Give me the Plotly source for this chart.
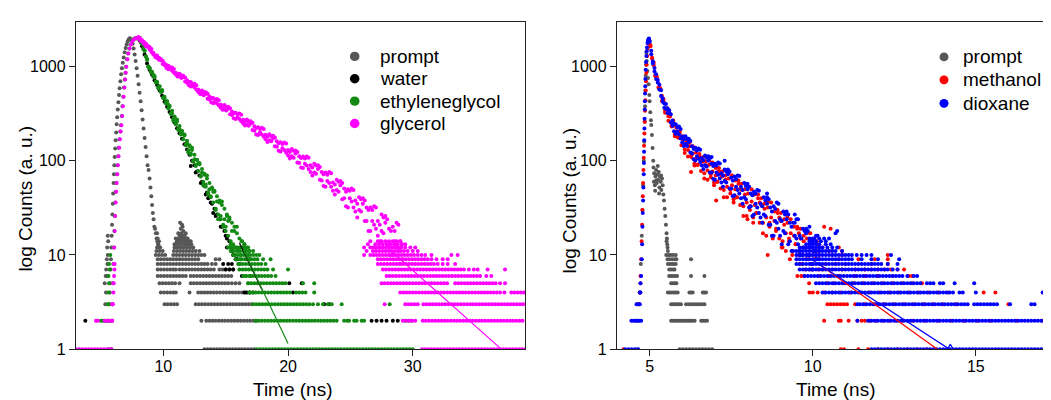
import plotly.graph_objects as go

# ======================= LEFT PANEL =======================
# prompt (IRF) : curve points (t in ns, counts)
promptL_t = [5.60, 5.64, 5.68, 5.71, 5.74, 5.77, 5.80, 5.83, 5.86, 5.89, 5.92, 5.95, 5.98, 6.01, 6.04, 6.07,
             6.10, 6.14, 6.18, 6.22, 6.26, 6.30, 6.35, 6.40, 6.45, 6.50, 6.56, 6.62, 6.68, 6.75, 6.82, 6.90,
             6.98, 7.06, 7.14, 7.22, 7.30, 7.38, 7.46, 7.54, 7.62, 7.70, 7.78, 7.86, 7.94, 8.02, 8.10, 8.18,
             8.26, 8.34, 8.42, 8.50, 8.58, 8.66, 8.74, 8.82, 8.90, 8.97, 9.04, 9.10, 9.16, 9.22, 9.28, 9.34,
             9.40, 9.46, 9.52, 9.58, 9.64, 9.60, 9.70, 9.65, 9.55, 9.50,
             10.9, 11.1, 11.3, 11.5, 11.7, 11.9, 12.1, 11.2, 11.4, 11.5, 11.6, 11.35, 11.55, 11.7, 11.0, 11.9,
             12.2, 11.45, 11.25, 11.8]
promptL_c = [1, 2, 3, 4, 5, 7, 9, 12, 16, 21, 27, 35, 45, 58, 72, 90,
             110, 135, 165, 200, 245, 290, 350, 420, 500, 590, 700, 830, 960, 1100, 1250, 1420,
             1580, 1720, 1850, 1950, 2000, 1980, 1900, 1750, 1560, 1350, 1150, 960, 800, 650, 530, 430,
             345, 275, 220, 175, 140, 112, 90, 80, 65, 52, 42, 34, 28, 24, 20, 19,
             17, 15, 14, 13, 12, 13, 12, 14, 15, 17,
             13, 14, 15, 16, 14, 13, 13, 17, 19, 21, 18, 22, 20, 16, 15, 15,
             14, 17, 13, 17]
promptL_rows = {
    1: [13.3, 13.55, 13.8, 14.05, 14.3, 14.55, 14.8, 15.05, 15.3, 15.55, 15.8, 16.05, 16.3, 16.55, 16.8, 17.05, 17.3],
    2: [13.05, 13.45, 13.7, 13.95, 14.2, 14.45, 14.7, 14.95, 15.2, 15.45, 15.7, 15.95, 16.2, 16.45, 16.7, 16.95, 17.2, 17.45],
    3: [5.35, 10.1, 10.35, 10.6, 10.85, 11.1, 12.6, 12.85, 13.1, 13.35, 13.6, 13.85, 14.1, 14.35, 14.6, 14.85, 15.1,
        15.35, 15.6, 15.85, 16.1, 16.35, 16.6, 16.85, 17.1],
    4: [5.4, 9.8, 10.05, 10.3, 10.55, 10.8, 11.0, 12.1, 12.8, 13.05, 13.3, 13.55, 13.8, 14.05, 14.3, 14.55, 14.8, 15.05,
        15.3, 15.55, 15.8, 16.05, 16.3, 16.55, 16.9],
    5: [5.3, 9.7, 9.95, 10.2, 10.45, 10.7, 10.95, 11.3, 12.2, 12.45, 12.7, 12.95, 13.2, 13.45, 13.7, 13.95, 14.2, 14.45,
        14.7, 14.95, 15.2, 15.5, 15.8, 16.1],
    6: [5.38, 5.5, 9.55, 9.8, 10.05, 10.3, 10.55, 10.8, 11.05, 11.3, 11.55, 11.8, 12.2, 12.45, 12.7, 12.95, 13.2, 13.45,
        13.7, 13.95, 14.2, 14.45, 14.7, 14.95, 15.2, 15.45],
    7: [5.42, 9.55, 9.8, 10.05, 10.3, 10.55, 10.8, 11.0, 11.3, 11.55, 11.8, 12.05, 12.3, 12.55, 12.8, 13.05, 13.3, 13.55,
        13.8, 14.05, 14.5, 14.75, 15.0, 15.3, 15.6],
    8: [5.52, 9.55, 9.8, 10.05, 10.3, 10.55, 10.8, 11.05, 11.3, 11.55, 11.8, 12.05, 12.3, 12.55, 12.8, 13.05, 13.3, 13.55,
        13.9, 14.2],
    9: [5.47, 9.55, 9.8, 10.05, 10.3, 10.55, 10.8, 11.05, 11.3, 11.55, 11.8, 12.05, 12.3, 12.55, 12.8, 14.2, 14.5],
    10: [5.55, 9.4, 9.65, 9.9, 10.15, 10.8, 11.05, 11.3, 11.55, 11.8, 12.05, 12.3, 12.55, 12.8, 13.05, 13.3],
    11: [9.45, 9.7, 9.95, 10.85, 11.1, 11.35, 11.6, 11.85, 12.1, 12.35, 12.6, 12.9],
    12: [5.5, 9.5, 9.75, 10.9, 11.15, 11.4, 11.65, 11.9, 12.15, 12.4],
    13: [11.0, 11.25, 11.5, 11.75, 12.0, 12.25],
    14: [5.58, 11.1, 11.35, 11.6, 11.85, 12.1],
    15: [11.2, 11.45, 11.7, 11.95],
    16: [5.55, 11.3, 11.5, 11.7],
}

# water
waterL_t = [7.9, 8.1, 8.3, 8.5, 8.7, 8.9, 9.1, 9.3, 9.5, 9.7, 9.9, 10.1, 10.3, 10.5, 10.7, 10.9, 11.1, 11.3, 11.5,
            11.7, 11.9, 12.1, 12.3, 12.5, 12.7, 12.9, 13.1, 13.3, 13.5, 13.7, 13.9, 14.1, 14.3, 14.5, 14.7, 14.9,
            15.1, 15.3, 15.5, 15.7, 15.9, 16.1,
            12.2, 12.6, 13.0, 13.4, 13.8, 14.2, 14.6, 15.0, 15.4, 15.8, 14.0, 13.6]
waterL_c = [2000, 1900, 1650, 1350, 1080, 930, 820, 720, 640, 560, 490, 425, 375, 330, 290, 255, 222, 196, 172,
            150, 132, 116, 100, 90, 77, 70, 60, 54, 46, 41, 35, 31, 27, 24, 20, 18,
            15, 14, 11, 10, 9, 8,
            88, 75, 58, 44, 36, 26, 20, 16, 12, 9, 28, 40]
waterL_rows = {
    2: [3.75, 26.7, 27.1, 27.5, 27.9, 28.4, 28.8],
    3: [22.9, 23.3],
    4: [16.5, 16.7, 16.95, 17.2, 20.4],
    5: [20.1, 21.1],
    6: [16.3],
    7: [15.0, 15.3, 15.6],
    8: [14.8, 15.2, 15.5],
    9: [15.9],
    10: [15.6],
    12: [15.1],
}

# ethyleneglycol : rising edge and noisy decay band (two passes per time channel)
eglyL_rise_t = [5.82, 5.87, 5.91, 5.95, 5.99, 6.03, 6.07, 6.11, 6.15, 6.19, 6.23, 6.28, 6.33, 6.38, 6.43, 6.49,
                6.55, 6.61, 6.67, 6.73, 6.79, 6.85, 6.91, 6.96, 7.01, 7.09, 7.17, 7.27, 7.37, 7.49, 7.61, 7.73, 7.85]
eglyL_rise_c = [1, 2, 3, 5, 8, 12, 18, 26, 36, 47, 58, 72, 90, 112, 138, 170,
                205, 239, 300, 380, 480, 600, 730, 860, 1000, 1200, 1380, 1560, 1720, 1860, 1950, 2000, 2010]
eglyL_t = [8.0, 8.1, 8.2, 8.3, 8.4, 8.5, 8.6, 8.7, 8.8, 8.9, 9.0, 9.1, 9.2, 9.3, 9.4, 9.5, 9.6, 9.7, 9.8, 9.9,
           10.0, 10.1, 10.2, 10.3, 10.4, 10.5, 10.6, 10.7, 10.8, 10.9, 11.0, 11.1, 11.2, 11.3, 11.4, 11.5, 11.6,
           11.7, 11.8, 11.9, 12.0, 12.1, 12.2, 12.3, 12.4, 12.5, 12.6, 12.7, 12.8, 12.9, 13.0, 13.1, 13.2, 13.3,
           13.4, 13.5, 13.6, 13.7, 13.8, 13.9, 14.0, 14.1, 14.2, 14.3, 14.4, 14.5, 14.6, 14.7, 14.8, 14.9, 15.0,
           15.1, 15.2, 15.3, 15.4, 15.5, 15.6, 15.7, 15.8, 15.9, 16.0, 16.1, 16.2, 16.3, 16.4, 16.5, 16.6, 16.7,
           16.8, 16.9, 17.0]
eglyL_c = [1990, 1960, 1830, 1760, 1580, 1470, 1280, 1180, 1010, 975,
           880, 870, 780, 770, 690, 690, 610, 620, 540, 545,
           470, 480, 410, 430, 360, 375, 318, 340, 280, 296,
           245, 262, 220, 235, 190, 208, 170, 186, 148, 163,
           130, 146, 116, 130, 100, 116, 88, 103, 78, 92,
           69, 82, 60, 73, 53, 65, 46, 58, 41, 52,
           36, 47, 31, 42, 27, 38, 24, 34, 21, 31,
           18, 27, 16, 24, 14, 22, 13, 20, 12, 17,
           11, 15, 10, 14, 12, 13, 11, 12, 10, 11, 9]
eglyL_c2 = [2032, 2014, 1803, 1745, 1535, 1484, 1280, 1211, 990, 960,
            878, 882, 820, 795, 681, 679, 589, 617, 547, 566,
            462, 460, 415, 427, 394, 384, 315, 321, 267, 293,
            253, 275, 213, 218, 195, 208, 192, 190, 146, 155,
            123, 144, 120, 138, 98, 104, 91, 102, 94, 95,
            68, 75, 55, 71, 56, 70, 44, 50, 42, 51,
            47, 48, 30, 37, 24, 36, 26, 37, 20, 24,
            20, 26, 23, 25, 13, 18, 10, 18, 12, 20,
            8, 12, 9, 14, 12, 13, 6, 9, 5, 9, 6]
eglyL_rows = {
    1: [17.5, 17.75, 18.0, 18.25, 18.5, 18.75, 19.0, 19.25, 19.5, 19.75, 20.0, 20.25, 20.5, 20.75, 21.0, 21.25,
        21.5, 21.75, 22.0, 22.25, 22.5, 22.75, 23.0, 23.25, 23.5, 23.75, 24.0, 24.25, 24.5, 24.75, 25.0, 25.25,
        25.5, 25.75, 26.0, 26.25, 26.5, 26.75, 27.0, 27.25, 27.5, 27.75, 28.0, 28.25, 28.5, 28.75, 29.0, 29.25,
        29.5, 29.75, 30.0],
    2: [5.0, 5.15, 5.3, 5.45, 5.6, 17.4, 17.65, 17.9, 18.15, 18.4, 18.65, 18.9, 19.15, 19.4, 19.65, 19.9, 20.15,
        20.4, 20.65, 20.9, 21.15, 21.4, 21.65, 21.9, 22.15, 22.4, 22.65, 22.9, 23.15, 23.4, 23.65, 23.9, 24.5,
        24.75, 24.9, 25.3, 25.5, 25.9, 26.1, 29.4, 29.65, 29.9],
    3: [5.55, 5.62, 17.2, 17.45, 17.7, 17.95, 18.2, 18.45, 18.7, 18.95, 19.2, 19.45, 19.7, 19.95, 20.2, 20.45,
        20.7, 20.95, 21.2, 21.45, 21.7, 22.0, 22.4, 22.8, 23.2, 23.5, 24.3, 28.15],
    4: [5.6, 16.9, 17.15, 17.4, 17.65, 17.9, 18.15, 18.4, 18.65, 18.9, 19.15, 19.4, 19.65, 19.9, 20.15, 20.65,
        20.9, 21.15, 21.4, 22.1],
    5: [5.65, 16.8, 17.05, 17.3, 17.55, 17.8, 18.05, 18.3, 18.55, 18.8, 19.05, 19.3, 19.55, 19.8, 21.2, 22.1],
    6: [5.6, 16.4, 16.65, 16.9, 17.15, 17.4, 17.65, 17.9, 18.15, 18.4, 18.65, 19.0],
    7: [5.7, 16.1, 16.35, 16.6, 16.85, 17.1, 17.35, 17.6, 17.85, 18.1, 18.35, 18.8, 20.0],
    8: [5.65, 16.1, 16.35, 16.6, 16.85, 17.1, 17.35, 17.6, 17.85, 18.2],
    9: [15.8, 16.05, 16.3, 16.55, 16.8, 17.05, 17.3, 17.55, 18.0, 18.6],
    10: [5.75, 15.7, 15.95, 16.2, 16.45, 16.7, 16.95, 17.2, 17.45, 17.7],
    11: [15.4, 15.65, 15.9, 16.15, 16.4, 16.65, 16.9, 17.2],
    12: [15.2, 15.45, 15.7, 15.95, 16.2, 16.5, 16.8],
}

# glycerol : rising edge and noisy decay band (two passes per time channel)
glyL_rise_t = [5.85, 5.9, 5.94, 5.98, 6.02, 6.06, 6.10, 6.14, 6.18, 6.22, 6.26, 6.31, 6.36, 6.41, 6.46, 6.52,
               6.58, 6.64, 6.70, 6.76, 6.82, 6.88, 6.94, 6.99, 7.04, 7.12, 7.20, 7.30, 7.40, 7.52, 7.64, 7.76, 7.88]
glyL_rise_c = [1, 2, 3, 5, 8, 12, 18, 26, 36, 47, 58, 72, 90, 112, 138, 170,
               205, 239, 300, 380, 480, 600, 730, 860, 1000, 1200, 1380, 1560, 1720, 1860, 1950, 2000, 2010]
glyL_t = [8.0, 8.15, 8.3, 8.45, 8.6, 8.75, 8.9, 9.05, 9.2, 9.35, 9.5, 9.65, 9.8, 9.95, 10.1, 10.25, 10.4, 10.55,
          10.7, 10.85, 11.0, 11.15, 11.3, 11.45, 11.6, 11.75, 11.9, 12.05, 12.2, 12.35, 12.5, 12.65, 12.8, 12.95,
          13.1, 13.25, 13.4, 13.55, 13.7, 13.85, 14.0, 14.15, 14.3, 14.45, 14.6, 14.75, 14.9, 15.05, 15.2, 15.35,
          15.5, 15.65, 15.8, 15.95, 16.1, 16.25, 16.4, 16.55, 16.7, 16.85, 17.0, 17.15, 17.3, 17.45, 17.6, 17.75,
          17.9, 18.05, 18.2, 18.35, 18.5, 18.65, 18.8, 18.95, 19.1, 19.25, 19.4, 19.55, 19.7, 19.85, 20.0, 20.15,
          20.3, 20.45, 20.6, 20.75, 20.9, 21.05, 21.2, 21.35, 21.5, 21.65, 21.8, 21.95, 22.1, 22.25, 22.4, 22.55,
          22.7, 22.85, 23.0, 23.15, 23.3, 23.45, 23.6, 23.75, 23.9, 24.05, 24.2, 24.35, 24.5, 24.65, 24.8, 24.95,
          25.1, 25.25, 25.4, 25.55, 25.7, 25.85, 26.0, 26.15, 26.3, 26.45, 26.6, 26.75, 26.9, 27.05, 27.2, 27.35,
          27.5, 27.65, 27.8, 27.95, 28.1, 28.25, 28.4, 28.55, 28.7, 28.85, 29.0, 29.15]
glyL_c = [2070, 1885, 1911, 1740, 1764, 1614, 1617, 1434, 1403, 1268,
          1311, 1183, 1205, 1067, 1087, 970, 1025, 946, 978, 864,
          864, 786, 841, 760, 800, 697, 720, 635, 687, 628,
          659, 570, 574, 512, 559, 498, 535, 456, 482, 418,
          466, 423, 454, 386, 396, 348, 392, 342, 375, 312,
          335, 283, 325, 291, 319, 264, 274, 237, 275, 236,
          264, 213, 233, 191, 228, 200, 224, 180, 189, 159,
          192, 161, 185, 143, 161, 128, 158, 136, 157, 122,
          130, 106, 134, 108, 129, 96, 112, 85, 111, 93,
          111, 82, 90, 70, 93, 73, 90, 63, 76, 54,
          75, 61, 76, 53, 59, 44, 63, 47, 61, 39,
          51, 33, 50, 40, 51, 32, 38, 25, 41, 29,
          40, 23, 32, 18, 32, 23, 33, 19, 23, 14,
          27, 17, 26, 13, 19, 10, 20, 14, 22, 11,
          14, 9]
glyL_c2 = [2032, 2004, 1842, 1831, 1653, 1666, 1525, 1538, 1349, 1327,
           1240, 1246, 1174, 1157, 1034, 1040, 940, 985, 907, 944,
           822, 832, 785, 810, 775, 770, 677, 691, 617, 660,
           601, 636, 540, 550, 513, 538, 515, 516, 447, 464,
           409, 449, 406, 440, 367, 379, 354, 376, 358, 361,
           306, 321, 278, 312, 279, 309, 250, 263, 243, 264,
           250, 254, 209, 223, 188, 218, 191, 218, 170, 181,
           165, 184, 173, 177, 141, 154, 126, 151, 130, 153,
           114, 124, 112, 128, 120, 124, 95, 107, 84, 106,
           89, 108, 76, 85, 75, 89, 82, 86, 62, 72,
           53, 71, 58, 74, 48, 56, 49, 60, 55, 58,
           40, 47, 32, 48, 37, 49, 29, 35, 30, 39,
           35, 38, 23, 30, 18, 30, 21, 32, 16, 21,
           18, 25, 22, 24, 13, 18, 10, 18, 13, 21,
           8, 13]
glyL_rows = {
    1: [3.0, 3.25, 3.5, 3.75, 4.0, 4.25, 4.5, 4.75, 5.0, 5.25, 5.5, 5.75,
        30.75, 31.0, 31.25, 31.5, 31.75, 32.0, 32.25, 32.5, 32.75, 33.0, 33.25, 33.5, 33.75, 34.0, 34.25, 34.5,
        34.75, 35.0, 35.25, 35.5, 35.75, 36.0, 36.25, 36.5, 36.75, 37.0, 37.25, 37.5, 37.75, 38.0, 38.25, 38.5,
        38.75, 39.0],
    2: [4.6, 4.75, 5.3, 5.5, 5.7, 5.9, 29.2, 29.45, 29.7, 29.95, 30.2, 30.8, 31.05, 31.3, 31.55, 31.8, 32.05,
        32.3, 32.55, 32.8, 33.05, 33.3, 33.55, 33.8, 34.05, 34.3, 34.55, 34.8, 35.05, 35.3, 35.55, 35.8, 36.05,
        36.3, 36.55, 36.8, 37.05, 37.3, 37.55, 37.8, 38.05, 38.3, 38.55, 38.8],
    3: [5.9, 5.95, 27.75, 29.4, 29.65, 29.9, 30.15, 30.4, 30.85, 31.1, 31.35, 31.6, 31.85, 32.1, 32.35, 32.6,
        32.85, 33.1, 33.35, 33.6, 33.85, 34.1, 34.35, 34.6, 34.85, 35.1, 35.35, 35.6, 35.85, 36.1, 36.35, 36.6,
        36.85, 37.1, 37.35, 37.6, 37.85, 38.1, 38.35, 38.6, 38.85],
    4: [6.0, 29.0, 29.25, 29.5, 29.75, 30.0, 30.25, 30.5, 30.75, 31.0, 31.25, 31.5, 31.75, 32.0, 32.25, 32.5,
        32.75, 33.0, 33.25, 33.5, 33.75, 34.0, 34.25, 34.5, 34.75, 35.0, 35.25, 35.5, 35.75, 36.0, 36.25, 36.5,
        36.75, 37.0, 37.35, 37.9, 38.15, 38.4, 38.65, 38.9],
    5: [6.02, 27.5, 27.75, 28.0, 28.25, 28.5, 28.75, 29.0, 29.25, 29.5, 29.75, 30.0, 30.25, 30.5, 30.75, 31.0,
        31.25, 31.5, 31.75, 32.0, 32.25, 32.5, 32.75, 33.4, 33.65, 33.9, 34.15, 34.4, 34.65, 34.9, 35.15, 35.4,
        35.65, 35.9, 36.15, 36.4, 36.65, 37.0, 37.4],
    6: [6.05, 27.9, 28.15, 28.4, 28.65, 28.9, 29.15, 29.4, 29.65, 29.9, 30.15, 30.4, 30.65, 30.9, 31.15, 31.4,
        31.65, 31.9, 32.15, 32.4, 32.65, 32.9, 33.15, 33.4, 33.65, 33.9, 34.15, 34.4, 34.65, 34.9, 35.15, 35.4,
        35.9, 36.3],
    7: [6.08, 27.6, 27.85, 28.1, 28.35, 28.6, 28.85, 29.1, 29.35, 29.6, 29.85, 30.1, 30.35, 30.6, 30.85, 31.1,
        31.35, 31.6, 31.85, 32.1, 32.35, 32.6, 32.85, 33.1, 33.35, 33.6, 33.85, 34.1, 34.5, 34.9, 35.2, 36.0, 37.4],
    8: [6.1, 27.2, 27.45, 27.7, 27.95, 28.2, 28.45, 28.7, 28.95, 29.2, 29.45, 29.7, 29.95, 30.2, 30.45, 30.7,
        30.95, 31.2, 31.45, 31.7, 32.0, 32.4, 32.8, 33.4],
    9: [27.2, 27.45, 27.7, 27.95, 28.2, 28.45, 28.7, 28.95, 29.2, 29.45, 29.7, 29.95, 30.2, 30.45, 30.7, 30.95,
        31.2, 31.5, 31.9, 32.4, 32.8],
    10: [26.1, 26.6, 26.85, 27.1, 27.35, 27.6, 27.85, 28.1, 28.35, 28.6, 28.85, 29.1, 29.35, 29.6, 29.85,
         30.1, 30.4, 30.7, 31.0, 31.5, 33.1, 33.6],
    11: [26.3, 26.8, 27.05, 27.3, 27.55, 27.8, 28.05, 28.3, 28.55, 28.8, 29.05, 29.3, 29.6, 30.0, 30.4],
    12: [26.1, 26.6, 26.85, 27.1, 27.35, 27.6, 27.85, 28.1, 28.35, 28.6, 28.85, 29.1, 29.4, 29.8, 30.2],
    13: [26.4, 27.0, 27.3, 27.6, 27.9, 28.2, 28.5, 28.8, 29.1, 29.4],
    14: [26.6, 27.2, 27.5, 27.8, 28.1, 28.4, 28.7, 29.0],
}

# mono-exponential fits (visible tails)
fitWater_t, fitWater_c = [16.1, 17.9], [13.5, 4.3]
fitEgly_t, fitEgly_c = [16.4, 20.0], [11.5, 1.15]
fitGly_t, fitGly_c = [27.8, 37.1], [12.5, 1.0]

# ======================= RIGHT PANEL =======================
promptR_t = [4.62, 4.66, 4.70, 4.73, 4.76, 4.78, 4.80, 4.82, 4.835, 4.85, 4.86, 4.87, 4.88, 4.89, 4.90, 4.91,
             4.93, 4.95, 4.97, 4.99, 5.00, 5.02, 5.04, 5.05, 5.07, 5.09, 5.11, 5.12,
             5.13, 5.14, 5.16, 5.18, 5.20, 5.22, 5.24, 5.26, 5.28, 5.30, 5.32, 5.34, 5.36, 5.38, 5.40, 5.42,
             5.44, 5.46, 5.48, 5.50, 5.52, 5.53, 5.54, 5.55, 5.52, 5.56, 5.17, 5.25, 5.35, 5.2, 5.29]
promptR_c = [1, 2, 4, 8, 16, 30, 55, 100, 160, 260, 380, 560, 800, 1050, 1400, 1150,
             900, 760, 650, 500, 430, 328, 270, 240, 188, 137, 100, 85,
             60, 74, 55, 68, 80, 58, 72, 63, 76, 52, 68, 60, 49, 65, 55, 44,
             38, 31, 26, 21, 17, 15, 13, 12, 14, 11, 48, 88, 70, 62, 45]
promptR_rows = {
    1: [5.92, 6.02, 6.12, 6.22, 6.32, 6.42, 6.52, 6.62, 6.72, 6.82, 6.92],
    2: [5.66, 5.72, 5.78, 5.84, 5.9, 5.96, 6.02, 6.08, 6.14, 6.2, 6.26, 6.32, 6.38, 6.58, 6.64, 6.7, 6.76],
    3: [5.66, 5.72, 5.78, 5.84, 5.9, 5.96, 6.12, 6.2, 6.28, 6.36, 6.44, 6.52, 6.6, 6.68],
    4: [5.56, 5.62, 5.68, 5.74, 5.8, 5.86, 6.22, 6.27, 6.32, 6.63, 6.68, 6.73],
    5: [5.66, 5.72, 5.78, 5.82],
    6: [5.6, 5.66, 5.72, 5.78, 5.84, 6.27, 6.68],
    7: [5.6, 5.66, 5.72, 5.76],
    8: [5.56, 5.62, 5.68, 5.74, 5.8],
    9: [5.55, 5.62, 5.7, 5.78, 5.82, 6.27],
    10: [5.51, 5.58, 5.65, 5.72, 5.8],
}

# methanol
methR_rise_t = [4.68, 4.70, 4.72, 4.74, 4.755, 4.77, 4.78, 4.79, 4.80, 4.81, 4.82, 4.83, 4.84, 4.85, 4.86, 4.87,
                4.88, 4.89, 4.90, 4.91, 4.925, 4.94, 4.955, 4.97, 4.985]
methR_rise_c = [3, 4, 6, 9, 14, 21, 30, 42, 58, 80, 108, 145, 195, 260, 340, 440,
                560, 700, 860, 1050, 1300, 1550, 1750, 1880, 1900]
methR_t = [5.025, 5.075, 5.125, 5.175, 5.225, 5.275, 5.325, 5.375, 5.425, 5.475, 5.525, 5.575, 5.625, 5.675,
           5.725, 5.775, 5.825, 5.875, 5.925, 5.975, 6.025, 6.075, 6.125, 6.175, 6.225, 6.275, 6.325, 6.375,
           6.425, 6.475, 6.525, 6.575, 6.625, 6.675, 6.725, 6.775, 6.825, 6.875, 6.925, 6.975, 7.025, 7.075,
           7.125, 7.175, 7.225, 7.275, 7.325, 7.375, 7.425, 7.475, 7.525, 7.575, 7.625, 7.675, 7.725, 7.775,
           7.825, 7.875, 7.925, 7.975, 8.025, 8.075, 8.125, 8.175, 8.225, 8.275, 8.325, 8.375, 8.425, 8.475,
           8.525, 8.575, 8.625, 8.675, 8.725, 8.775, 8.825, 8.875, 8.925, 8.975, 9.025, 9.075, 9.125, 9.175,
           9.225, 9.275, 9.325, 9.375, 9.425, 9.475, 9.525, 9.575, 9.625, 9.675, 9.725, 9.775, 9.825, 9.875,
           9.925, 9.975, 10.025, 10.075, 10.125, 10.175]
methR_c = [1696, 1227, 1038, 797, 775, 601, 590, 433, 430, 324,
           361, 297, 315, 231, 236, 183, 224, 177, 207, 146,
           167, 121, 160, 130, 156, 110, 120, 89, 123, 91,
           118, 78, 98, 65, 99, 79, 101, 67, 77, 55,
           84, 60, 84, 51, 68, 41, 70, 53, 74, 45,
           55, 36, 62, 41, 62, 34, 49, 26, 50, 36,
           53, 30, 37, 22, 44, 28, 44, 22, 34, 17,
           35, 25, 36, 20, 25, 15, 29, 19, 30, 15,
           23, 12, 24, 17, 25, 14, 17, 10, 20, 13,
           20, 10, 15, 8, 16, 12, 17, 9, 12, 7,
           14, 9, 14, 7]
methR_c2 = [1648, 1244, 1107, 811, 730, 601, 573, 491, 454, 342,
            344, 267, 295, 239, 269, 190, 200, 177, 197, 180,
            182, 132, 149, 111, 143, 115, 143, 94, 106, 91,
            111, 103, 109, 74, 90, 63, 91, 72, 96, 59,
            70, 60, 78, 72, 77, 49, 63, 41, 65, 49,
            70, 39, 50, 41, 57, 51, 57, 33, 44, 26,
            45, 33, 50, 25, 34, 28, 40, 36, 40, 22,
            31, 16, 32, 22, 36, 16, 23, 18, 28, 25,
            28, 14, 21, 11, 22, 15, 24, 11, 16, 13,
            19, 17, 19, 10, 14, 7, 15, 10, 17, 8,
            11, 9, 13, 11]
methR_extra_t = [6.27, 7.04, 8.62, 8.0, 9.3, 10.35, 10.55, 9.05]
methR_extra_c = [76, 38, 10, 24, 9, 20, 19, 12]
methR_rows = {
    1: [4.2, 10.86, 10.96, 11.4, 11.7, 12.0, 12.3, 12.6, 12.9, 13.2, 13.5],
    2: [4.6, 10.35, 10.8, 10.86, 11.1, 11.37, 11.5, 11.6, 11.75, 11.95, 12.15, 12.35, 12.55, 12.75, 13.05, 13.45,
        13.85, 14.25, 14.65, 15.05, 15.45, 16.25, 17.05],
    3: [4.62, 4.68, 10.45, 10.55, 10.65, 10.75, 10.85, 10.95, 11.05, 11.3, 11.6, 11.9, 12.2, 12.5, 12.8, 13.1,
        13.4, 13.7, 14.0, 14.4, 16.0],
    4: [4.7, 9.9, 10.0, 10.15, 10.35, 10.6, 10.85, 11.15, 11.45, 11.75, 12.05, 12.35, 12.65, 12.95, 13.25,
        13.55, 13.85, 14.15, 15.24, 15.6, 17.38],
    5: [4.72, 9.89, 10.45, 10.65, 10.95, 11.25, 11.55, 11.85, 12.15, 12.45, 12.75, 13.05, 13.35, 17.43],
    6: [9.53, 9.65, 9.74, 10.2, 10.5, 10.8, 11.3, 11.6, 12.0, 12.45, 12.95, 13.05],
    7: [9.9, 10.3, 10.6, 10.9, 11.3, 11.6, 11.8, 12.0, 12.2, 12.4, 12.6, 12.8],
    8: [9.6, 10.0, 10.4, 10.7, 11.0, 11.8, 12.3],
    9: [9.8, 10.2, 10.8, 11.4, 11.9, 12.3],
    10: [9.7, 10.0, 10.2, 10.6, 10.9, 12.3],
    11: [9.6, 10.1, 10.5, 10.9],
    12: [9.9, 10.3, 10.8],
}

# dioxane
dioxR_rise_t = [4.70, 4.72, 4.74, 4.76, 4.77, 4.78, 4.79, 4.80, 4.81, 4.82, 4.825, 4.83, 4.835, 4.84, 4.845, 4.85,
                4.855, 4.86, 4.865, 4.87, 4.88, 4.89, 4.90, 4.91, 4.92, 4.935, 4.95, 4.965, 4.98]
dioxR_rise_c = [3, 4, 6, 9, 13, 20, 28, 38, 52, 72, 95, 125, 165, 220, 280, 350,
                430, 520, 620, 740, 930, 1120, 1300, 1460, 1600, 1780, 1900, 1970, 1990]
dioxR_t = [5.00, 5.05, 5.10, 5.15, 5.20, 5.25, 5.30, 5.35, 5.40, 5.45, 5.50, 5.55, 5.60, 5.65, 5.70, 5.75,
           5.80, 5.85, 5.90, 5.95, 6.00, 6.05, 6.10, 6.15, 6.20, 6.25, 6.30, 6.35, 6.40, 6.45, 6.50, 6.55,
           6.60, 6.65, 6.70, 6.75, 6.80, 6.85, 6.90, 6.95, 7.00, 7.05, 7.10, 7.15, 7.20, 7.25, 7.30, 7.35,
           7.40, 7.45, 7.50, 7.55, 7.60, 7.65, 7.70, 7.75, 7.80, 7.85, 7.90, 7.95, 8.00, 8.05, 8.10, 8.15,
           8.20, 8.25, 8.30, 8.35, 8.40, 8.45, 8.50, 8.55, 8.60, 8.65, 8.70, 8.75, 8.80, 8.85, 8.90, 8.95,
           9.00, 9.05, 9.10, 9.15, 9.20, 9.25, 9.30, 9.35, 9.40, 9.45, 9.50, 9.55, 9.60, 9.65, 9.70, 9.75,
           9.80, 9.85, 9.90, 9.95, 10.00, 10.05, 10.10, 10.15, 10.20]
dioxR_c = [1883, 1355, 1144, 887, 831, 680, 642, 488, 462, 367,
           402, 323, 344, 256, 268, 206, 244, 205, 231, 173,
           181, 144, 182, 144, 172, 123, 143, 104, 138, 112,
           135, 97, 107, 82, 114, 87, 112, 75, 93, 64,
           93, 75, 96, 65, 74, 53, 81, 59, 81, 51,
           66, 42, 68, 53, 70, 45, 53, 35, 58, 39,
           57, 32, 45, 26, 47, 35, 49, 28, 35, 22,
           41, 26, 41, 21, 32, 16, 33, 23, 36, 19,
           24, 13, 29, 17, 29, 13, 22, 11, 22, 16,
           24, 13, 16, 10, 19, 12, 19, 10, 15, 8,
           15, 11, 16, 9, 11]
dioxR_c2 = [1836, 1479, 1078, 969, 738, 721, 573, 563, 424, 407,
            355, 363, 324, 312, 236, 247, 194, 227, 191, 218,
            157, 170, 151, 171, 159, 162, 120, 134, 101, 129,
            105, 131, 89, 102, 90, 109, 101, 107, 75, 88,
            63, 89, 71, 94, 59, 70, 61, 77, 72, 77,
            51, 62, 43, 64, 49, 69, 40, 49, 41, 54,
            50, 53, 33, 43, 27, 45, 32, 48, 25, 33,
            27, 38, 35, 39, 21, 29, 16, 31, 22, 35,
            16, 23, 18, 27, 24, 27, 14, 20, 11, 22,
            15, 24, 11, 15, 12, 18, 17, 18, 10, 14,
            7, 15, 10, 16, 8]
dioxR_extra_t = [9.45, 9.9, 10.7, 10.75, 8.6, 7.3, 6.9]
dioxR_extra_c = [27, 20, 17, 18, 45, 100, 110]
dioxR_rows = {
    1: [4.25, 4.35, 4.45, 4.55, 4.65, 11.8, 11.9, 12.0, 12.1, 12.2, 12.3, 12.4, 12.5, 12.6, 12.7, 12.8, 12.9, 13.0,
        13.1, 13.2, 13.3, 13.4, 13.5, 13.6, 13.7, 13.8, 13.9, 14.0, 14.1, 14.2, 14.3, 14.4, 14.5, 14.6, 14.7,
        14.8, 14.9, 15.0, 15.1, 15.2, 15.3, 15.4, 15.5, 15.6, 15.7, 15.8, 15.9, 16.0, 16.1, 16.2, 16.3, 16.4,
        16.5, 16.6, 16.7, 16.8, 16.9, 17.0, 17.1, 17.2, 17.3, 17.4, 17.5],
    2: [4.44, 4.5, 4.56, 4.62, 4.68, 4.74, 11.37, 11.7, 11.8, 11.9, 12.0, 12.1, 12.2, 12.3, 12.4, 12.5, 12.6,
        12.7, 12.8, 12.9, 13.0, 13.1, 13.2, 13.3, 13.4, 13.5, 13.6, 13.7, 13.8, 13.9, 14.0, 14.1, 14.2, 14.3,
        14.4, 14.5, 14.6, 14.7, 14.8, 14.9, 15.0, 15.1, 15.2, 15.3, 15.4, 15.5, 15.6, 15.7, 15.8, 15.9, 16.0,
        16.1, 16.2, 16.3, 16.4, 16.5, 16.6, 16.7, 16.8, 16.9, 17.0, 17.1, 17.2, 17.3, 17.4, 17.5],
    3: [4.6, 4.66, 11.37, 11.45, 11.55, 11.65, 11.75, 11.85, 11.95, 12.05, 12.15, 12.25, 12.35, 12.45, 12.55,
        12.65, 12.75, 12.85, 12.95, 13.05, 13.15, 13.25, 13.35, 13.45, 13.55, 13.65, 13.75, 13.85, 13.95, 14.05,
        14.15, 14.25, 14.35, 14.45, 14.55, 14.65, 14.75, 14.95, 15.05, 15.15, 15.25, 15.35, 15.45, 15.55,
        15.65, 16.05, 16.7, 16.8, 17.38],
    4: [4.7, 10.3, 10.4, 10.5, 10.6, 10.7, 10.8, 10.9, 11.0, 11.1, 11.2, 11.3, 11.4, 11.5, 11.6, 11.7, 11.8,
        11.9, 12.0, 12.1, 12.2, 12.3, 12.4, 12.5, 12.6, 12.7, 12.8, 12.9, 13.0, 13.1, 13.2, 13.3, 13.4, 13.5,
        13.6, 13.7, 13.8, 13.9, 14.0, 14.1, 14.2, 14.3, 14.5, 14.6, 15.0, 17.05],
    5: [4.72, 10.1, 10.2, 10.3, 10.4, 10.5, 10.6, 10.7, 10.8, 10.9, 11.0, 11.1, 11.2, 11.3, 11.4, 11.5, 11.6,
        11.7, 11.8, 11.9, 12.0, 12.1, 12.2, 12.3, 12.4, 12.5, 12.6, 12.7, 12.8, 12.9, 13.0, 13.1, 13.2, 13.3,
        13.5, 13.6, 13.7, 13.9, 14.0, 14.35, 14.95],
    6: [9.75, 9.85, 9.95, 10.05, 10.15, 10.25, 10.35, 10.45, 10.55, 10.65, 10.75, 10.85, 10.95, 11.05, 11.15,
        11.25, 11.35, 11.45, 11.55, 11.65, 11.75, 11.85, 11.95, 12.05, 12.15, 12.25, 12.35, 12.45, 12.55, 12.65,
        12.75, 12.9, 13.1, 13.2],
    7: [9.6, 9.7, 9.8, 9.9, 10.0, 10.1, 10.2, 10.3, 10.4, 10.5, 10.6, 10.7, 10.8, 10.9, 11.0, 11.1, 11.2, 11.3,
        11.4, 11.5, 11.6, 11.7, 11.8, 11.9, 12.0, 12.1, 12.2, 12.3, 12.45, 12.6],
    8: [9.5, 9.6, 9.7, 9.8, 9.9, 10.0, 10.1, 10.2, 10.3, 10.4, 10.5, 10.6, 10.7, 10.8, 10.9, 11.0, 11.1, 11.2,
        11.3, 11.4, 11.5, 11.6, 11.7, 11.8, 11.9, 12.0, 12.1, 12.3, 12.6],
    9: [9.5, 9.6, 9.7, 9.8, 9.9, 10.0, 10.1, 10.2, 10.3, 10.4, 10.5, 10.6, 10.7, 10.8, 10.9, 11.0, 11.1, 11.2,
        11.5, 11.8, 12.0, 12.65],
    10: [9.5, 9.6, 9.7, 9.8, 9.9, 10.0, 10.1, 10.2, 10.3, 10.4, 10.5, 10.6, 10.7, 10.8, 10.9, 11.0, 11.1, 11.2,
         11.35, 11.5, 11.65, 11.8, 12.4],
    11: [9.5, 9.6, 9.7, 9.8, 9.9, 10.0, 10.1, 10.2, 10.3, 10.4, 10.5, 10.6, 10.7, 10.9],
    12: [9.6, 9.7, 9.8, 9.9, 10.0, 10.1, 10.2, 10.3, 10.45, 10.6, 10.75],
    13: [9.8, 9.9, 10.0, 10.1, 10.2, 10.4, 10.55],
    14: [9.9, 10.0, 10.1, 10.25, 10.4],
    15: [10.2, 10.35, 10.5],
}

fitMeth_t, fitMeth_c = [10.24, 13.82], [7.8, 1.0]
fitDiox_t, fitDiox_c = [9.93, 14.15, 14.22, 14.3], [9.1, 1.02, 1.13, 1.0]

# legend entries
legendL_names = ["prompt", "water", "ethyleneglycol", "glycerol"]
legendR_names = ["prompt", "methanol", "dioxane"]

# ======================= STYLE =======================
GRAY, BLACK, GREEN, MAGENTA = "#575757", "#000000", "#138a13", "#ff00ff"
RED, BLUE = "#ff0000", "#0000ff"
FONT = "Liberation Sans, Arial, sans-serif"
MS = 4.0
W, H = 1051, 400


def collect(pairs, rows):
    xs, ys = [], []
    for t, c in pairs:
        for a, b in zip(t, c):
            if b > 0:
                xs.append(a)
                ys.append(b)
    for lvl, times in rows.items():
        xs.extend(times)
        ys.extend([lvl] * len(times))
    return xs, ys


fig = go.Figure()


def add_data(pairs, rows, color, xa, ya):
    xs, ys = collect(pairs, rows)
    fig.add_trace(go.Scatter(x=xs, y=ys, mode="markers", xaxis=xa, yaxis=ya, showlegend=False,
                             hoverinfo="skip", marker=dict(size=MS, color=color, line=dict(width=0))))


def add_fit(t, c, color, xa, ya):
    fig.add_trace(go.Scatter(x=t, y=c, mode="lines", xaxis=xa, yaxis=ya, showlegend=False,
                             line=dict(color=color, width=1.2)))


# left panel
add_data([(promptL_t, promptL_c)], promptL_rows, GRAY, "x", "y")
add_data([(waterL_t, waterL_c)], waterL_rows, BLACK, "x", "y")
add_data([(eglyL_rise_t, eglyL_rise_c), (eglyL_t, eglyL_c), (eglyL_t, eglyL_c2)], eglyL_rows, GREEN, "x", "y")
add_data([(glyL_rise_t, glyL_rise_c), (glyL_t, glyL_c), (glyL_t, glyL_c2)], glyL_rows, MAGENTA, "x", "y")
add_fit(fitWater_t, fitWater_c, BLACK, "x", "y")
add_fit(fitEgly_t, fitEgly_c, GREEN, "x", "y")
add_fit(fitGly_t, fitGly_c, MAGENTA, "x", "y")

# right panel
add_data([(promptR_t, promptR_c)], promptR_rows, GRAY, "x2", "y2")
add_data([(methR_rise_t, methR_rise_c), (methR_t, methR_c), (methR_t, methR_c2), (methR_extra_t, methR_extra_c)],
         methR_rows, RED, "x2", "y2")
add_data([(dioxR_rise_t, dioxR_rise_c), (dioxR_t, dioxR_c), (dioxR_t, dioxR_c2), (dioxR_extra_t, dioxR_extra_c)],
         dioxR_rows, BLUE, "x2", "y2")
add_fit(fitMeth_t, fitMeth_c, RED, "x2", "y2")
add_fit(fitDiox_t, fitDiox_c, BLUE, "x2", "y2")

ydom = [(H - 349) / H, (H - 14) / H]
axis_common = dict(showline=True, linecolor="#222222", linewidth=1.3, ticks="outside", ticklen=6,
                   tickwidth=1.3, tickcolor="#222222", showgrid=False, zeroline=False,
                   tickfont=dict(family=FONT, size=16, color="black"))
ytickvals = [1, 10, 100, 1000]

fig.update_layout(
    width=W, height=H, margin=dict(l=0, r=0, t=0, b=0),
    paper_bgcolor="white", plot_bgcolor="white", showlegend=False,
    font=dict(family=FONT, size=16, color="black"),
    xaxis=dict(domain=[68 / W, 517 / W], range=[3, 39], tickvals=[10, 20, 30], mirror=True, anchor="y",
               ticklabelstandoff=-3, **axis_common),
    yaxis=dict(domain=ydom, type="log", range=[0, 3.478], tickvals=ytickvals, ticktext=["1", "10", "100", "1000"],
               mirror=True, anchor="x", **axis_common),
    xaxis2=dict(domain=[609 / W, 1.0], range=[4, 17.55], tickvals=[5, 10, 15], mirror=True, anchor="y2",
                ticklabelstandoff=-3, **axis_common),
    yaxis2=dict(domain=ydom, type="log", range=[0, 3.478], tickvals=ytickvals, ticktext=["1", "10", "100", "1000"],
                mirror=False, anchor="x2", **axis_common),
)

ann = dict(xref="paper", yref="paper", showarrow=False, xanchor="center", yanchor="middle",
           font=dict(family=FONT, size=19, color="black"))
fig.add_annotation(text="Time (ns)", x=285 / W, y=1 - 390 / H, **ann)
fig.add_annotation(text="Time (ns)", x=828 / W, y=1 - 390 / H, **ann)
fig.add_annotation(text="log Counts (a. u.)", x=18 / W, y=1 - 195 / H, textangle=-90, **ann)
fig.add_annotation(text="log Counts (a. u.)", x=562 / W, y=1 - 197 / H, textangle=-90, **ann)


# hand-placed legends (marker dot + label)
def legend_block(names, colors, mx, tx, ys, r):
    for n, c, yy in zip(names, colors, ys):
        fig.add_shape(type="circle", xref="paper", yref="paper",
                      x0=(mx - r) / W, x1=(mx + r) / W, y0=1 - (yy + r) / H, y1=1 - (yy - r) / H,
                      fillcolor=c, line=dict(width=0))
        fig.add_annotation(text=n, x=tx / W, y=1 - yy / H, xref="paper", yref="paper", showarrow=False,
                           xanchor="left", yanchor="middle", font=dict(family=FONT, size=19, color="black"))


legend_block(legendL_names, [GRAY, BLACK, GREEN, MAGENTA], 346.7, 370, [49.5, 72.4, 95.3, 118.2], 4.8)
legend_block(legendR_names, [GRAY, RED, BLUE], 936, 953, [50, 73.5, 97.5], 4.5)

fig.write_html("out.html")
